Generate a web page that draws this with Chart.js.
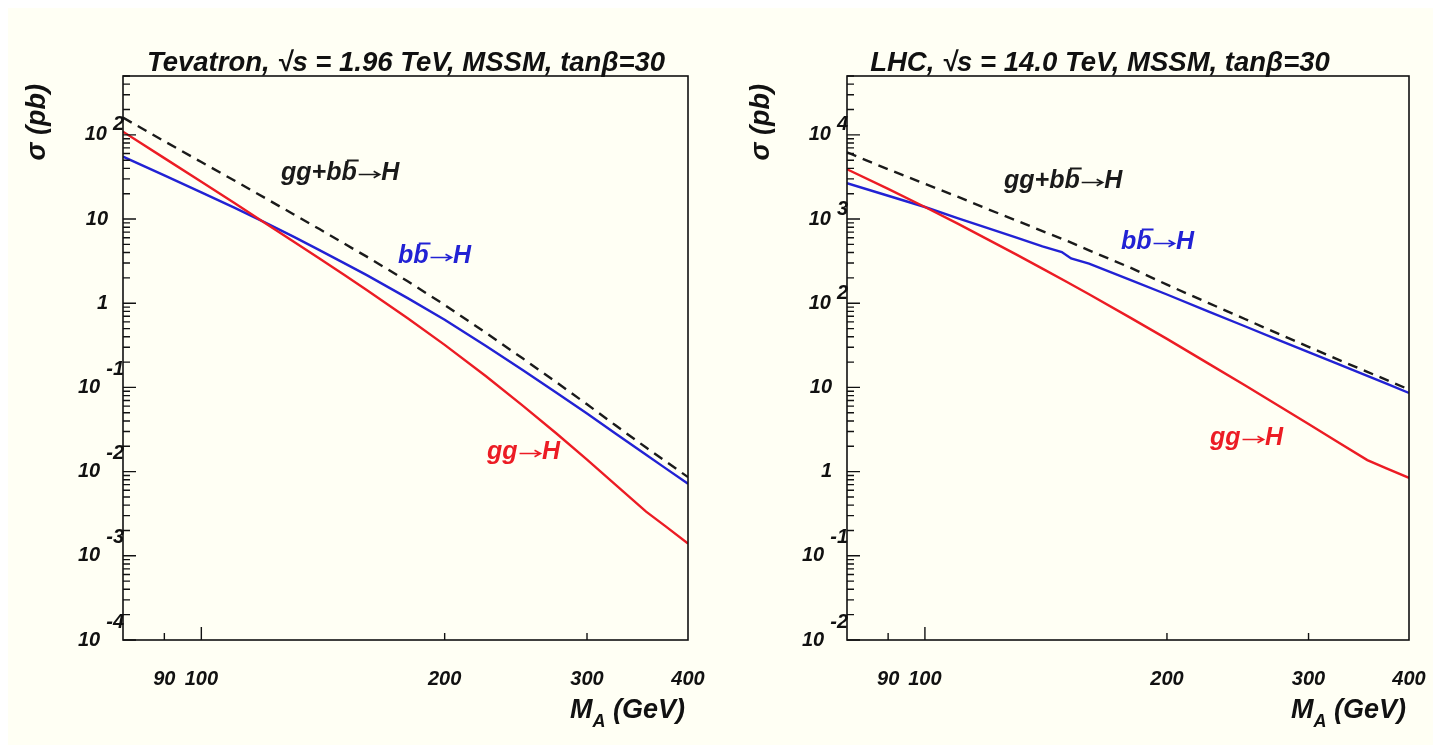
<!DOCTYPE html>
<html>
<head>
<meta charset="utf-8">
<script src="https://cdn.jsdelivr.net/npm/chart.js@4.4.0/dist/chart.umd.min.js"></script>
<style>
  html, body { margin: 0; padding: 0; background: #fff; }
  #paper { position: absolute; left: 8px; top: 8px; width: 1425px; height: 737px; background: rgb(255,255,244); }
  canvas { position: absolute; top: 0; }
  #tev { left: 0; }
  #lhc { left: 720px; }
</style>
</head>
<body>
<div id="paper"></div>
<canvas id="tev" width="720" height="745"></canvas>
<canvas id="lhc" width="721" height="745"></canvas>
<script>
// Tevatron, sqrt(s) = 1.96 TeV  (sigma in pb vs M_A in GeV)
var massTev = [80, 90, 100, 110, 120, 130, 140, 150, 160, 180, 200, 225, 250, 275, 300, 325, 355, 375, 400];
var ggTev   = [109, 52.9, 27.7, 15.4, 8.94, 5.42, 3.40, 2.19, 1.45, 0.662, 0.320, 0.1355, 0.0604, 0.0284, 0.0139, 0.00706, 0.00335, 0.00225, 0.00140];
var bbTev   = [55.0, 33.0, 20.7, 13.6, 9.06, 6.18, 4.28, 3.02, 2.17, 1.15, 0.635, 0.310, 0.160, 0.0865, 0.0490, 0.0286, 0.0159, 0.0110, 0.00716];
var sumTev  = [160, 84, 47.5, 28.5, 17.7, 11.4, 7.6, 5.15, 3.6, 1.82, 0.955, 0.445, 0.22, 0.115, 0.063, 0.0357, 0.0193, 0.0133, 0.0086];

// LHC, sqrt(s) = 14 TeV
var massLhc   = [80, 90, 100, 110, 120, 130, 140, 150, 160, 180, 200, 225, 250, 275, 300, 325, 355, 375, 400];
var ggLhc     = [3900, 2280, 1390, 875, 566, 378, 258, 180, 128, 67.5, 37.7, 19.3, 10.6, 6.10, 3.68, 2.30, 1.37, 1.09, 0.842];
var sumLhc    = [6200, 3900, 2620, 1830, 1300, 960, 720, 555, 425, 265, 166, 101, 65, 43.5, 30.3, 21.8, 15.3, 12.3, 9.45];
var massLhcBb = [80, 90, 100, 110, 120, 130, 140, 148, 152, 160, 180, 200, 225, 250, 275, 300, 325, 355, 375, 400];
var bbLhc     = [2660, 1890, 1390, 1020, 776, 600, 473, 406, 340, 296, 190, 127, 80, 53.3, 36.7, 26.2, 19.3, 13.7, 11.1, 8.6];

var xTicks = [90, 100, 200, 300, 400];
var xTickLabels = ['90', '100', '200', '300', '400'];

var FONT = '"Liberation Sans", Arial, sans-serif';
function font(size) { return 'italic bold ' + size + 'px ' + FONT; }

function pts(xs, ys) {
  return xs.map(function (m, i) { return { x: m, y: ys[i] }; });
}

// draws a label made of parts; bar:true gets an overline, arrow:true is a drawn right arrow
function drawParts(ctx, parts, x, y, size, color) {
  ctx.font = font(size);
  ctx.fillStyle = color;
  ctx.strokeStyle = color;
  ctx.textAlign = 'left';
  ctx.textBaseline = 'middle';
  var cx = x;
  parts.forEach(function (p) {
    if (p.arrow) {
      var w = 0.98 * size, ay = y + 0.06 * size;
      ctx.lineWidth = 1.6;
      ctx.beginPath();
      ctx.moveTo(cx + 0.08 * size, ay);
      ctx.lineTo(cx + w - 0.06 * size, ay);
      ctx.moveTo(cx + w - 0.30 * size, ay - 0.13 * size);
      ctx.lineTo(cx + w - 0.06 * size, ay);
      ctx.lineTo(cx + w - 0.30 * size, ay + 0.13 * size);
      ctx.stroke();
      cx += w;
      return;
    }
    ctx.fillText(p.t, cx, y);
    var tw = ctx.measureText(p.t).width;
    if (p.bar) {
      ctx.lineWidth = 2;
      ctx.beginPath();
      ctx.moveTo(cx + 0.22 * size, y - 0.5 * size);
      ctx.lineTo(cx + tw + 0.08 * size, y - 0.5 * size);
      ctx.stroke();
    }
    cx += tw;
  });
}

var rootFrame = {
  id: 'rootFrame',
  afterDraw: function (chart) {
    var o = chart.options.plugins.rootFrame;
    var ctx = chart.ctx, a = chart.chartArea;
    var xs = chart.scales.x, ys = chart.scales.y;
    ctx.save();

    // frame
    ctx.strokeStyle = '#111';
    ctx.lineWidth = 1.6;
    ctx.strokeRect(a.left, a.top, a.right - a.left, a.bottom - a.top);

    // y ticks (major + minor), pointing inward
    var lo = Math.round(Math.log10(ys.min)), hi = Math.floor(Math.log10(ys.max) + 1e-9);
    ctx.lineWidth = 1.4;
    ctx.beginPath();
    for (var e = lo; e <= hi; e++) {
      for (var k = 1; k <= 9; k++) {
        var v = k * Math.pow(10, e);
        if (v < ys.min * 0.999 || v > ys.max * 1.001) continue;
        var py = ys.getPixelForValue(v);
        ctx.moveTo(a.left, py);
        ctx.lineTo(a.left + (k === 1 ? 13 : 7), py);
      }
    }
    // x ticks
    xTicks.forEach(function (v) {
      if (v >= xs.max) return;
      var px = xs.getPixelForValue(v);
      ctx.moveTo(px, a.bottom);
      ctx.lineTo(px, a.bottom - (v === 100 ? 13 : 7));
    });
    ctx.stroke();

    // y labels, ROOT style 10^n
    ctx.fillStyle = '#111';
    ctx.font = font(20);
    ctx.textBaseline = 'middle';
    ctx.textAlign = 'right';
    for (e = lo; e <= hi; e++) {
      var y0 = ys.getPixelForValue(Math.pow(10, e));
      if (e === 0 || e === 1) {
        ctx.fillText(e === 0 ? '1' : '10', a.left - 15, y0);
      } else {
        var ex = String(e);
        ctx.fillText(ex, a.left + 1, y0 - (e < 0 ? 18 : 10));
        var ew = ctx.measureText(ex).width;
        ctx.fillText('10', a.left + 1 - ew - 6, y0);
      }
    }

    // x labels
    ctx.textAlign = 'center';
    xTicks.forEach(function (v, i) {
      ctx.fillText(xTickLabels[i], xs.getPixelForValue(v), a.bottom + 39);
    });

    // x title  M_A (GeV)
    ctx.font = font(27);
    ctx.textBaseline = 'alphabetic';
    ctx.textAlign = 'right';
    var tail = ' (GeV)';
    var xr = a.right - 3;
    ctx.fillText(tail, xr, 718);
    var tw = ctx.measureText(tail).width;
    ctx.font = font(18);
    var aw = ctx.measureText('A').width;
    ctx.fillText('A', xr - tw, 727);
    ctx.font = font(27);
    ctx.fillText('M', xr - tw - aw, 718);

    // y title
    ctx.save();
    ctx.translate(o.yTitleX, 84);
    ctx.rotate(-Math.PI / 2);
    ctx.textAlign = 'right';
    ctx.textBaseline = 'middle';
    ctx.fillText('\u03c3 (pb)', 0, 0);
    ctx.restore();

    // panel title
    ctx.font = font(27.5);
    ctx.textAlign = 'center';
    ctx.textBaseline = 'alphabetic';
    ctx.fillText(o.title, o.titleX, 71);

    // curve labels
    o.labels.forEach(function (l) {
      drawParts(ctx, l.parts, l.x, l.y, 25, l.color);
    });
    ctx.restore();
  }
};

var RED = '#ec1c24', BLUE = '#2222d4', BLACK = '#1a1a1a';

function makePanel(id, pad, yMin, yMax, series, extra) {
  return new Chart(document.getElementById(id), {
    type: 'line',
    data: {
      datasets: [
        { label: 'gg\u2192H', data: series.gg, borderColor: RED, borderWidth: 2.4 },
        { label: 'bb\u2192H', data: series.bb, borderColor: BLUE, borderWidth: 2.4 },
        { label: 'gg+bb\u2192H', data: series.sum, borderColor: BLACK, borderWidth: 2.4, borderDash: [10, 7] }
      ]
    },
    options: {
      responsive: false,
      animation: false,
      devicePixelRatio: 1,
      layout: { padding: pad },
      elements: { point: { radius: 0 }, line: { tension: 0, fill: false } },
      scales: {
        x: { type: 'logarithmic', min: 80, max: 400, display: false },
        y: { type: 'logarithmic', min: yMin, max: yMax, display: false }
      },
      plugins: {
        legend: { display: false },
        tooltip: { enabled: false },
        rootFrame: extra
      }
    },
    plugins: [rootFrame]
  });
}

var sumParts = [{ t: 'gg+b' }, { t: 'b', bar: true }, { arrow: true }, { t: 'H' }];
var bbParts = [{ t: 'b' }, { t: 'b', bar: true }, { arrow: true }, { t: 'H' }];
var ggParts = [{ t: 'gg' }, { arrow: true }, { t: 'H' }];

makePanel('tev', { left: 123, top: 76, right: 32, bottom: 105 }, 1e-4, 500,
  { gg: pts(massTev, ggTev), bb: pts(massTev, bbTev), sum: pts(massTev, sumTev) },
  {
    title: 'Tevatron, \u221as = 1.96 TeV, MSSM, tan\u03b2=30', titleX: 406, yTitleX: 38,
    labels: [
      { parts: sumParts, x: 281, y: 173, color: BLACK },
      { parts: bbParts, x: 398, y: 256, color: BLUE },
      { parts: ggParts, x: 487, y: 452, color: RED }
    ]
  });

makePanel('lhc', { left: 127, top: 76, right: 32, bottom: 105 }, 1e-2, 5e4,
  { gg: pts(massLhc, ggLhc), bb: pts(massLhcBb, bbLhc), sum: pts(massLhc, sumLhc) },
  {
    title: 'LHC, \u221as = 14.0 TeV, MSSM, tan\u03b2=30', titleX: 380, yTitleX: 42,
    labels: [
      { parts: sumParts, x: 284, y: 181, color: BLACK },
      { parts: bbParts, x: 401, y: 242, color: BLUE },
      { parts: ggParts, x: 490, y: 438, color: RED }
    ]
  });
</script>
</body>
</html>
